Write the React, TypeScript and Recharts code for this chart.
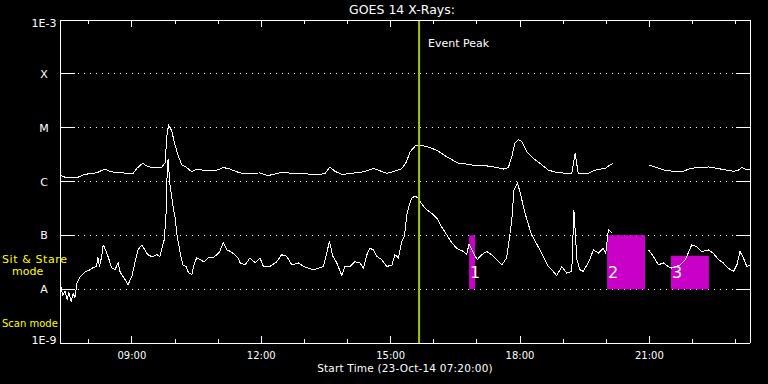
import React from "react";
import {
  CartesianGrid,
  Line,
  LineChart,
  ReferenceArea,
  ReferenceLine,
  XAxis,
  YAxis,
} from "recharts";

// Time in decimal hours (UT), flux as log10(W/m^2)
const START_HOUR = 7 + 20 / 60;
const END_HOUR = START_HOUR + 16;

const HOUR_TICKS = [8, 9, 10, 11, 12, 13, 14, 15, 16, 17, 18, 19, 20, 21, 22, 23];
const LABELED_HOURS = [9, 12, 15, 18, 21];

const LEVEL_TICKS = [-9, -8, -7, -6, -5, -4, -3];
const LEVEL_LABELS = ["1E-9", "A", "B", "C", "M", "X", "1E-3"];
const GRID_LEVELS = [-8, -7, -6, -5, -4];

const EVENT_PEAK_HOUR = 15.66;

// highlighted intervals
const REGION_NAMES = ["1", "2", "3"];
const REGION_START = [16.82, 20.02, 21.5];
const REGION_END = [16.96, 20.9, 22.38];
const REGION_TOP = [-7, -7, -7.38];
const REGION_BOTTOM = [-8, -8, -8];

// 0.5-4 A channel
const SHORT_TIMES = [
  7.33, 7.36, 7.4, 7.45, 7.5, 7.54, 7.59, 7.64, 7.68, 7.73,
  7.8, 7.91, 8.03, 8.1, 8.18, 8.21, 8.25, 8.3, 8.33, 8.35,
  8.45, 8.53, 8.61, 8.68, 8.73, 8.84, 8.91, 9.0, 9.07, 9.14,
  9.23, 9.3, 9.37, 9.47, 9.58, 9.65, 9.69, 9.75, 9.79, 9.82,
  9.84, 9.88, 9.95, 10.0, 10.05, 10.12, 10.18, 10.26, 10.31, 10.39,
  10.44, 10.5, 10.58, 10.67, 10.77, 10.88, 10.97, 11.04, 11.12, 11.2,
  11.29, 11.39, 11.46, 11.51, 11.62, 11.74, 11.86, 11.97, 12.05, 12.2,
  12.36, 12.47, 12.59, 12.71, 12.86, 12.98, 13.09, 13.21, 13.32, 13.44,
  13.52, 13.58, 13.66, 13.75, 13.83, 13.87, 13.94, 14.06, 14.17, 14.29,
  14.37, 14.45, 14.52, 14.6, 14.68, 14.79, 14.91, 15.03, 15.1, 15.18,
  15.26, 15.32, 15.37, 15.41, 15.49, 15.57, 15.64, 15.68, 15.8, 15.95,
  16.07, 16.18, 16.3, 16.42, 16.53, 16.69, 16.76, 16.82, 16.92, 17.01,
  17.11, 17.23, 17.34, 17.42, 17.58, 17.69, 17.75, 17.81, 17.86, 17.94,
  18.0, 18.08, 18.16, 18.27, 18.42, 18.54, 18.66, 18.77, 18.85, 18.97,
  19.08, 19.2, 19.25, 19.32, 19.39, 19.47, 19.55, 19.62, 19.7, 19.82,
  19.93, 19.99, 20.05, 20.13, 20.55, 20.98, 21.09, 21.21, 21.32, 21.44,
  21.52, 21.71, 21.83, 21.9, 21.98, 22.1, 22.21, 22.37, 22.48, 22.6,
  22.71, 22.83, 22.95, 23.03, 23.1, 23.18, 23.26, 23.33,
];
const SHORT_FLUX = [
  -7.69, -7.99, -8.12, -8.03, -8.19, -8.06, -8.23, -8.08, -8.16, -7.88,
  -7.77, -7.68, -7.64, -7.6, -7.58, -7.4, -7.58, -7.39, -7.21, -7.19,
  -7.4, -7.6, -7.64, -7.51, -7.69, -7.82, -7.92, -7.76, -7.51, -7.27,
  -7.18, -7.27, -7.36, -7.4, -7.36, -7.39, -7.27, -7.08, -6.65, -5.79,
  -5.58, -6.03, -6.44, -6.66, -7.02, -7.32, -7.55, -7.58, -7.69, -7.73,
  -7.55, -7.42, -7.45, -7.49, -7.42, -7.42, -7.36, -7.3, -7.13, -7.27,
  -7.3, -7.36, -7.42, -7.51, -7.55, -7.42, -7.51, -7.42, -7.58, -7.58,
  -7.49, -7.36, -7.39, -7.55, -7.51, -7.58, -7.61, -7.64, -7.61, -7.58,
  -7.33, -7.11, -7.39, -7.51, -7.67, -7.75, -7.58, -7.58, -7.49, -7.51,
  -7.61, -7.36, -7.24, -7.27, -7.39, -7.45, -7.58, -7.55, -7.36, -7.42,
  -7.11, -7.02, -6.65, -6.5, -6.31, -6.27, -6.31, -6.37, -6.5, -6.59,
  -6.68, -6.84, -6.99, -7.14, -7.24, -7.3, -7.36, -7.16, -7.33, -7.45,
  -7.36, -7.3, -7.36, -7.42, -7.55, -7.42, -7.08, -6.71, -6.16, -6.03,
  -6.19, -6.47, -6.71, -6.99, -7.21, -7.39, -7.58, -7.67, -7.75, -7.58,
  -7.7, -7.67, -6.53, -7.45, -7.64, -7.67, -7.55, -7.45, -7.27, -7.33,
  -7.24, -7.33, -6.9, -6.95, null, -7.27, -7.39, -7.55, -7.51, -7.58,
  -7.61, -7.55, -7.45, -7.33, -7.18, -7.21, -7.3, -7.27, -7.33, -7.45,
  -7.51, -7.61, -7.67, -7.55, -7.3, -7.42, -7.58, -7.55,
];

// 1-8 A channel
const LONG_TIMES = [
  7.33, 7.45, 7.72, 7.87, 8.03, 8.18, 8.26, 8.38, 8.49, 8.65,
  8.8, 8.88, 9.03, 9.11, 9.25, 9.34, 9.46, 9.58, 9.69, 9.77,
  9.81, 9.85, 9.92, 10.0, 10.08, 10.16, 10.27, 10.39, 10.5, 10.66,
  10.81, 10.97, 11.12, 11.28, 11.43, 11.58, 11.82, 11.97, 12.16, 12.47,
  12.74, 12.98, 13.29, 13.48, 13.59, 13.71, 13.87, 14.06, 14.29, 14.41,
  14.6, 14.75, 14.91, 15.06, 15.26, 15.37, 15.45, 15.57, 15.68, 15.91,
  16.07, 16.3, 16.57, 16.8, 17.0, 17.23, 17.46, 17.61, 17.73, 17.81,
  17.88, 17.96, 18.04, 18.16, 18.31, 18.46, 18.66, 18.85, 19.08, 19.2,
  19.28, 19.35, 19.58, 19.7, 19.86, 19.97, 20.09, 20.16, 20.55, 20.98,
  21.17, 21.36, 21.56, 21.79, 21.94, 22.14, 22.37, 22.6, 22.79, 22.95,
  23.06, 23.14, 23.22, 23.33,
];
const LONG_FLUX = [
  -5.88, -5.92, -5.93, -5.88, -5.85, -5.84, -5.81, -5.77, -5.81, -5.84,
  -5.84, -5.86, -5.85, -5.76, -5.66, -5.71, -5.74, -5.74, -5.74, -5.65,
  -5.17, -4.95, -5.05, -5.32, -5.54, -5.69, -5.74, -5.82, -5.77, -5.79,
  -5.8, -5.79, -5.74, -5.77, -5.82, -5.85, -5.85, -5.84, -5.89, -5.83,
  -5.85, -5.85, -5.88, -5.85, -5.73, -5.81, -5.87, -5.85, -5.83, -5.81,
  -5.76, -5.8, -5.85, -5.82, -5.76, -5.63, -5.45, -5.34, -5.32, -5.37,
  -5.42, -5.54, -5.66, -5.68, -5.71, -5.71, -5.74, -5.77, -5.74, -5.54,
  -5.29, -5.22, -5.26, -5.45, -5.57, -5.66, -5.79, -5.83, -5.85, -5.85,
  -5.48, -5.85, -5.85, -5.8, -5.77, -5.76, -5.69, -5.66, null, -5.69,
  -5.74, -5.79, -5.81, -5.81, -5.76, -5.74, -5.73, -5.76, -5.79, -5.81,
  -5.79, -5.74, -5.77, -5.77,
];

const shortSeries = SHORT_TIMES.map((t, i) => ({ t, flux: SHORT_FLUX[i] }));
const longSeries = LONG_TIMES.map((t, i) => ({ t, flux: LONG_FLUX[i] }));

const FONT = "'DejaVu Sans', sans-serif";
const WHITE = "#ffffff";
const YELLOW = "#ffff00";
const PEAK_COLOR = "#a0c810";
const REGION_COLOR = "#c800c8";

const LEFT_MARGIN = 16;
const BOTTOM_MARGIN = 12;

function formatHour(h: number): string {
  return `${String(h).padStart(2, "0")}:00`;
}

function LeftTick(props: any) {
  const { x, y, payload } = props;
  const idx = LEVEL_TICKS.indexOf(payload.value);
  const axisX = x + LEFT_MARGIN;
  const inner = payload.value > -9 && payload.value < -3;
  // end labels sit a bit inside the frame
  const shift = payload.value === -3 ? 3 : payload.value === -9 ? -3 : 0;
  return (
    <g>
      <text
        x={x}
        y={y + shift}
        dy={4}
        textAnchor="middle"
        fill={WHITE}
        fontSize={11}
        fontFamily={FONT}
      >
        {LEVEL_LABELS[idx]}
      </text>
      {inner && (
        <line x1={axisX} x2={axisX + 15} y1={y} y2={y} stroke={WHITE} shapeRendering="crispEdges" />
      )}
    </g>
  );
}

function RightTick(props: any) {
  const { x, y, payload } = props;
  if (payload.value <= -9 || payload.value >= -3) return <g />;
  return <line x1={x} x2={x - 14} y1={y} y2={y} stroke={WHITE} shapeRendering="crispEdges" />;
}

function BottomTick(props: any) {
  const { x, y, payload } = props;
  const axisY = y - BOTTOM_MARGIN;
  const major = LABELED_HOURS.includes(payload.value);
  return (
    <g>
      <line
        x1={x}
        x2={x}
        y1={axisY}
        y2={axisY - (major ? 7 : 4)}
        stroke={WHITE}
        shapeRendering="crispEdges"
      />
      {major && (
        <text x={x} y={y} dy={4} textAnchor="middle" fill={WHITE} fontSize={10} fontFamily={FONT}>
          {formatHour(payload.value)}
        </text>
      )}
    </g>
  );
}

function TopTick(props: any) {
  const { x, y, payload } = props;
  const major = LABELED_HOURS.includes(payload.value);
  return (
    <line x1={x} x2={x} y1={y} y2={y + (major ? 7 : 4)} stroke={WHITE} shapeRendering="crispEdges" />
  );
}

function Caption({
  x,
  y,
  color = WHITE,
  size = 10,
  align = "center",
  spacing = 0,
  children,
}: {
  x: number;
  y: number;
  color?: string;
  size?: number;
  align?: "left" | "center";
  spacing?: number;
  children: React.ReactNode;
}) {
  return (
    <div
      style={{
        position: "absolute",
        left: x,
        top: y,
        transform: align === "center" ? "translate(-50%, -50%)" : "translate(0, -50%)",
        color,
        fontSize: size,
        fontFamily: FONT,
        letterSpacing: spacing,
        lineHeight: 1,
        whiteSpace: "nowrap",
      }}
    >
      {children}
    </div>
  );
}

export default function App() {
  return (
    <div
      style={{
        position: "absolute",
        left: 0,
        top: 0,
        width: 768,
        height: 384,
        background: "#000",
        overflow: "hidden",
      }}
    >
      <LineChart width={768} height={384} margin={{ top: 0, right: 0, bottom: 0, left: 0 }}>
        <CartesianGrid
          vertical={false}
          horizontalValues={GRID_LEVELS}
          stroke={WHITE}
          strokeDasharray="1 5"
          shapeRendering="crispEdges"
        />
        <XAxis
          xAxisId={0}
          dataKey="t"
          type="number"
          domain={[START_HOUR, END_HOUR]}
          allowDataOverflow
          ticks={HOUR_TICKS}
          interval={0}
          height={41}
          tickSize={0}
          tickMargin={BOTTOM_MARGIN}
          tick={<BottomTick />}
          axisLine={{ stroke: WHITE, shapeRendering: "crispEdges" }}
        />
        <XAxis
          xAxisId="top"
          orientation="top"
          dataKey="t"
          type="number"
          domain={[START_HOUR, END_HOUR]}
          allowDataOverflow
          ticks={HOUR_TICKS}
          interval={0}
          height={20}
          tickSize={0}
          tickMargin={0}
          tick={<TopTick />}
          axisLine={{ stroke: WHITE, shapeRendering: "crispEdges" }}
        />
        <YAxis
          yAxisId={0}
          type="number"
          domain={[-9, -3]}
          allowDataOverflow
          ticks={LEVEL_TICKS}
          interval={0}
          width={60}
          tickSize={0}
          tickMargin={LEFT_MARGIN}
          tick={<LeftTick />}
          axisLine={{ stroke: WHITE, shapeRendering: "crispEdges" }}
        />
        <YAxis
          yAxisId="right"
          orientation="right"
          type="number"
          domain={[-9, -3]}
          allowDataOverflow
          ticks={LEVEL_TICKS}
          interval={0}
          width={18}
          tickSize={0}
          tickMargin={0}
          tick={<RightTick />}
          axisLine={{ stroke: WHITE, shapeRendering: "crispEdges" }}
        />
        {REGION_NAMES.map((name, i) => (
          <ReferenceArea
            key={name}
            x1={REGION_START[i]}
            x2={REGION_END[i]}
            y1={REGION_BOTTOM[i]}
            y2={REGION_TOP[i]}
            fill={REGION_COLOR}
            fillOpacity={1}
            stroke="none"
            label={(p: any) => {
              const vb = p.viewBox || {};
              return (
                <text
                  x={vb.x + 1}
                  y={vb.y + vb.height - 11}
                  fill={WHITE}
                  fontSize={16}
                  fontFamily={FONT}
                >
                  {name}
                </text>
              );
            }}
          />
        ))}
        <Line
          data={longSeries}
          dataKey="flux"
          type="linear"
          stroke={WHITE}
          strokeWidth={1}
          dot={false}
          connectNulls={false}
          isAnimationActive={false}
          shapeRendering="crispEdges"
        />
        <Line
          data={shortSeries}
          dataKey="flux"
          type="linear"
          stroke={WHITE}
          strokeWidth={1}
          dot={false}
          connectNulls={false}
          isAnimationActive={false}
          shapeRendering="crispEdges"
        />
        <ReferenceLine
          x={EVENT_PEAK_HOUR}
          stroke={PEAK_COLOR}
          strokeWidth={2}
          label={(p: any) => {
            const vb = p.viewBox || {};
            return (
              <text x={vb.x + 9} y={vb.y + 27} fill={WHITE} fontSize={11} fontFamily={FONT}>
                Event Peak
              </text>
            );
          }}
        />
      </LineChart>
      <Caption x={402} y={10} size={12.5}>
        GOES 14 X-Rays:
      </Caption>
      <Caption x={405} y={368} size={10.5} spacing={0.2}>
        Start Time (23-Oct-14 07:20:00)
      </Caption>
      <Caption x={2} y={259} color={YELLOW} size={11} spacing={0.6} align="left">
        Sit &amp; Stare
      </Caption>
      <Caption x={12} y={271} color={YELLOW} size={11} align="left">
        mode
      </Caption>
      <Caption x={2} y={324} color={YELLOW} size={10} align="left">
        Scan mode
      </Caption>
    </div>
  );
}
